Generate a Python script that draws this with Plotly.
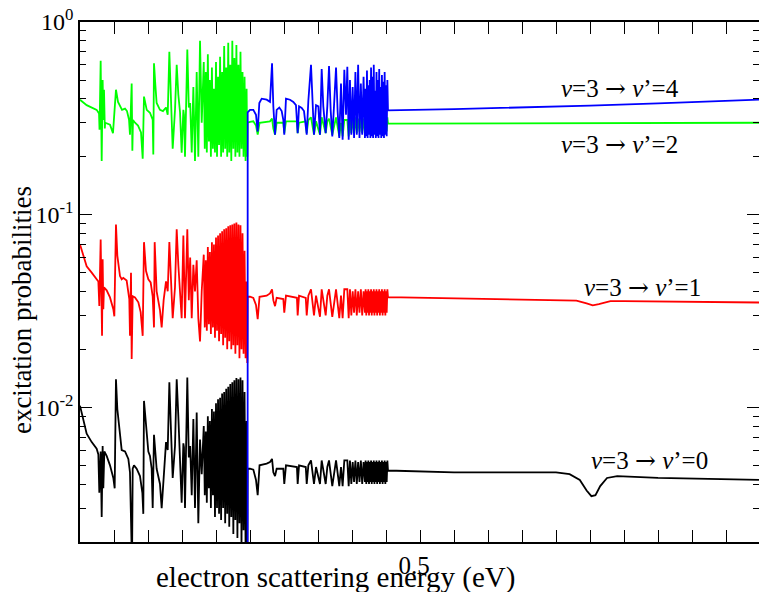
import plotly.graph_objects as go

# ---------------- data (energy in eV, probability) ----------------
# region A (below the v'=4 threshold) and region B (above it)

black_x_a = [0.0, 0.0049, 0.0098, 0.0172, 0.0245, 0.0270, 0.0284, 0.0304, 0.0319, 0.0333, 0.0343, 0.0358,
             0.0392, 0.0441, 0.0490, 0.0510, 0.0529, 0.0549, 0.0588, 0.0613, 0.0662, 0.0711, 0.0735, 0.0750,
             0.0765, 0.0775, 0.0794, 0.0833, 0.0882, 0.0917, 0.0931, 0.0941, 0.0971, 0.1005, 0.1029, 0.1054,
             0.1069, 0.1088, 0.1127, 0.1176, 0.1201, 0.1230, 0.1265, 0.1290, 0.1314, 0.1333, 0.1363, 0.1397,
             0.1422, 0.1446, 0.1471, 0.1495, 0.1520, 0.1529, 0.1544, 0.1578, 0.1600, 0.1620, 0.1643, 0.1667,
             0.1691, 0.1716, 0.1740, 0.1765, 0.1790,
             0.182, 0.1835, 0.185, 0.1865, 0.188, 0.1895, 0.191, 0.1925, 0.194, 0.1955, 0.197, 0.1985,
             0.200, 0.2015, 0.203, 0.2045, 0.206, 0.2075, 0.209, 0.2105, 0.212, 0.2135, 0.215, 0.2165,
             0.218, 0.2195, 0.221, 0.2225, 0.224, 0.2255, 0.227, 0.2285, 0.230, 0.2315, 0.233, 0.2345,
             0.236, 0.2375, 0.239, 0.2405, 0.242, 0.2435, 0.245, 0.2460]
black_y_a = [0.0102, 0.0087, 0.0073, 0.0066, 0.0061, 0.0057, 0.0036, 0.0059, 0.0027, 0.0063, 0.0038, 0.0059,
             0.0056, 0.0050, 0.0043, 0.0038, 0.0140, 0.0098, 0.0069, 0.0060, 0.0059, 0.0054, 0.0046, 0.0028,
             0.0015, 0.0048, 0.0050, 0.0048, 0.0044, 0.0036, 0.0028, 0.0108, 0.0077, 0.0059, 0.0056, 0.0048,
             0.0030, 0.0072, 0.0048, 0.0040, 0.0030, 0.0045, 0.0066, 0.0060, 0.0135, 0.0085, 0.0043, 0.0063,
             0.0140, 0.0090, 0.0058, 0.0032, 0.0065, 0.0062, 0.0030, 0.0143, 0.0055, 0.0063, 0.0035, 0.0087,
             0.0030, 0.0094, 0.0025, 0.0068, 0.0045,
             0.0080, 0.0035, 0.0075, 0.0032, 0.0090, 0.0038, 0.0085, 0.0030, 0.0098, 0.0035, 0.0095, 0.0027,
             0.0105, 0.0030, 0.0110, 0.0028, 0.0112, 0.0026, 0.0118, 0.0030, 0.0120, 0.0025, 0.0125, 0.0028,
             0.0128, 0.0024, 0.0132, 0.0027, 0.0135, 0.0022, 0.0138, 0.0026, 0.0142, 0.0021, 0.0140, 0.0025,
             0.0143, 0.0019, 0.0138, 0.0023, 0.0120, 0.0018, 0.0085, 0.0015]

red_x_a = [0.0, 0.0049, 0.0098, 0.0172, 0.0245, 0.0270, 0.0284, 0.0304, 0.0324, 0.0333, 0.0343, 0.0353,
           0.0392, 0.0441, 0.0490, 0.0505, 0.0529, 0.0549, 0.0588, 0.0613, 0.0637, 0.0686, 0.0725, 0.0735,
           0.0750, 0.0760, 0.0775, 0.0809, 0.0858, 0.0892, 0.0922, 0.0941, 0.0971, 0.1005, 0.1039, 0.1069,
           0.1088, 0.1098, 0.1127, 0.1176, 0.1201, 0.1230, 0.1265, 0.1290, 0.1314, 0.1333, 0.1363, 0.1397,
           0.1422, 0.1446, 0.1471, 0.1495, 0.1520, 0.1529, 0.1544, 0.1578, 0.1600, 0.1620, 0.1643, 0.1667,
           0.1691, 0.1716, 0.1740, 0.1765, 0.1790,
           0.182, 0.1835, 0.185, 0.1865, 0.188, 0.1895, 0.191, 0.1925, 0.194, 0.1955, 0.197, 0.1985,
           0.200, 0.2015, 0.203, 0.2045, 0.206, 0.2075, 0.209, 0.2105, 0.212, 0.2135, 0.215, 0.2165,
           0.218, 0.2195, 0.221, 0.2225, 0.224, 0.2255, 0.227, 0.2285, 0.230, 0.2315, 0.233, 0.2345,
           0.236, 0.2375, 0.239, 0.2405, 0.242, 0.2435, 0.245, 0.2460]
red_y_a = [0.070, 0.0613, 0.054, 0.050, 0.0462, 0.045, 0.0336, 0.0744, 0.0235, 0.0586, 0.0323, 0.042,
           0.0405, 0.0372, 0.0323, 0.0297, 0.089, 0.0613, 0.048, 0.0462, 0.047, 0.0455, 0.0364, 0.0235,
           0.050, 0.0178, 0.0377, 0.0372, 0.0351, 0.0312, 0.0235, 0.072, 0.051, 0.0462, 0.0445, 0.0377,
           0.026, 0.072, 0.040, 0.032, 0.026, 0.036, 0.045, 0.040, 0.072, 0.050, 0.029, 0.042,
           0.084, 0.055, 0.037, 0.029, 0.078, 0.045, 0.029, 0.084, 0.036, 0.060, 0.029, 0.055,
           0.040, 0.058, 0.029, 0.022, 0.040,
           0.062, 0.026, 0.058, 0.025, 0.068, 0.027, 0.064, 0.024, 0.072, 0.026, 0.070, 0.023,
           0.076, 0.025, 0.078, 0.022, 0.080, 0.024, 0.082, 0.021, 0.084, 0.023, 0.085, 0.020,
           0.087, 0.022, 0.088, 0.020, 0.089, 0.021, 0.090, 0.019, 0.091, 0.021, 0.089, 0.018,
           0.088, 0.020, 0.080, 0.019, 0.065, 0.018, 0.045, 0.017]

green_x_a = [0.0, 0.0098, 0.0245, 0.0280, 0.0287, 0.0304, 0.0319, 0.0333, 0.0343, 0.0353, 0.0365, 0.0370,
             0.0441, 0.0485, 0.0529, 0.0559, 0.0618, 0.0662, 0.0691, 0.0721, 0.0735, 0.0760, 0.0770, 0.0779,
             0.0809, 0.0853, 0.0897, 0.0922, 0.0941, 0.0981, 0.1029, 0.1069, 0.1078, 0.1088, 0.1108, 0.1127,
             0.1176, 0.1220, 0.1265, 0.1290, 0.1314, 0.1333, 0.1363, 0.1397, 0.1422, 0.1446, 0.1471, 0.1495,
             0.1520, 0.1529, 0.1544, 0.1578, 0.1600, 0.1620, 0.1643, 0.1667, 0.1691, 0.1716, 0.1740, 0.1765,
             0.1790,
             0.182, 0.1835, 0.185, 0.1865, 0.188, 0.1895, 0.191, 0.1925, 0.194, 0.1955, 0.197, 0.1985,
             0.200, 0.2015, 0.203, 0.2045, 0.206, 0.2075, 0.209, 0.2105, 0.212, 0.2135, 0.215, 0.2165,
             0.218, 0.2195, 0.221, 0.2225, 0.224, 0.2255, 0.227, 0.2285, 0.230, 0.2315, 0.233, 0.2345,
             0.236, 0.2375, 0.239, 0.2405, 0.242, 0.2435, 0.245, 0.2460]
green_y_a = [0.395, 0.37, 0.35, 0.335, 0.276, 0.63, 0.19, 0.50, 0.31, 0.445, 0.28, 0.30,
             0.293, 0.265, 0.445, 0.385, 0.35, 0.355, 0.345, 0.311, 0.26, 0.48, 0.215, 0.31,
             0.30, 0.29, 0.267, 0.195, 0.41, 0.35, 0.338, 0.311, 0.205, 0.61, 0.47, 0.38,
             0.35, 0.345, 0.36, 0.33, 0.70, 0.45, 0.22, 0.35, 0.60, 0.42, 0.34, 0.21,
             0.35, 0.33, 0.20, 0.72, 0.36, 0.38, 0.21, 0.46, 0.19, 0.55, 0.20, 0.80,
             0.30,
             0.62, 0.22, 0.55, 0.21, 0.68, 0.24, 0.50, 0.20, 0.58, 0.22, 0.45, 0.21,
             0.62, 0.20, 0.52, 0.23, 0.66, 0.20, 0.55, 0.21, 0.75, 0.22, 0.58, 0.20,
             0.78, 0.21, 0.60, 0.19, 0.80, 0.22, 0.65, 0.20, 0.76, 0.21, 0.60, 0.20,
             0.70, 0.22, 0.55, 0.20, 0.52, 0.19, 0.45, 0.20]

# region B, isolated resonances (same energies for all channels)
res_x_b = [0.2465, 0.2500, 0.2549, 0.2588, 0.2613, 0.2640, 0.2745, 0.2794, 0.2824, 0.2843, 0.2868, 0.2892,
           0.2990, 0.3004, 0.3029, 0.3190, 0.3201, 0.3221, 0.3320, 0.3334, 0.3358, 0.3397, 0.3441, 0.3471,
           0.3529, 0.3554, 0.3613, 0.3637, 0.3662, 0.3710, 0.3765, 0.3813, 0.3838, 0.3862, 0.3887, 0.3931,
           0.3951]
black_res_b = [0.0048, 0.0048, 0.00475, 0.0042, 0.0035, 0.0050, 0.0051, 0.0052, 0.0054, 0.0046, 0.0044, 0.0048,
               0.0048, 0.0040, 0.0050, 0.0049, 0.0040, 0.0050, 0.0049, 0.0040, 0.0050, 0.0053, 0.0040, 0.0049,
               0.0040, 0.0053, 0.0040, 0.0049, 0.0053, 0.0039, 0.0053, 0.0039, 0.0049, 0.0039, 0.0053, 0.0053,
               0.0039]
red_res_b = [0.0375, 0.0375, 0.037, 0.034, 0.0287, 0.0375, 0.038, 0.039, 0.041, 0.036, 0.0335, 0.037,
             0.0365, 0.031, 0.038, 0.037, 0.030, 0.038, 0.037, 0.030, 0.038, 0.041, 0.030, 0.038,
             0.0295, 0.041, 0.030, 0.038, 0.041, 0.0295, 0.041, 0.029, 0.038, 0.029, 0.041, 0.041,
             0.029]
green_res_b = [0.30, 0.303, 0.305, 0.29, 0.26, 0.30, 0.305, 0.305, 0.315, 0.28, 0.26, 0.30,
               0.30, 0.265, 0.305, 0.305, 0.265, 0.30, 0.305, 0.265, 0.31, 0.32, 0.26, 0.305,
               0.26, 0.32, 0.265, 0.305, 0.315, 0.26, 0.32, 0.255, 0.30, 0.255, 0.31, 0.31,
               0.255]
blue_x_b = [0.2465, 0.2466, 0.2500, 0.2549, 0.2588, 0.2613, 0.2637, 0.2672, 0.2745, 0.2794, 0.2824, 0.2843,
            0.2868, 0.2892, 0.2931, 0.2966, 0.2990, 0.3004, 0.3029, 0.3088, 0.3137, 0.3176, 0.3201, 0.3221,
            0.3260, 0.3294, 0.3334, 0.3358, 0.3397, 0.3422, 0.3441, 0.3471, 0.3505, 0.3529, 0.3554, 0.3578,
            0.3613, 0.3637, 0.3662, 0.3686, 0.3710, 0.3735, 0.3765, 0.3789, 0.3813, 0.3838, 0.3862, 0.3887,
            0.3912, 0.3931, 0.3951]
blue_y_b = [0.0005, 0.34, 0.35, 0.35, 0.33, 0.27, 0.38, 0.40, 0.395, 0.385, 0.61, 0.365,
            0.26, 0.35, 0.36, 0.345, 0.31, 0.26, 0.40, 0.395, 0.385, 0.37, 0.265, 0.365,
            0.358, 0.345, 0.26, 0.39, 0.60, 0.365, 0.26, 0.37, 0.365, 0.26, 0.57, 0.365,
            0.265, 0.365, 0.59, 0.35, 0.255, 0.365, 0.58, 0.34, 0.25, 0.48, 0.245, 0.565,
            0.33, 0.585, 0.245]

# region B, dense resonance series just below 0.45 eV
dense_x_b = [0.397, 0.399, 0.401, 0.403, 0.405, 0.407, 0.409, 0.411, 0.413, 0.415, 0.417, 0.419,
             0.420, 0.421, 0.422, 0.423, 0.424, 0.425, 0.426, 0.427, 0.428, 0.429, 0.430, 0.431,
             0.432, 0.433, 0.434, 0.435, 0.436, 0.437, 0.438, 0.439, 0.440, 0.441, 0.442, 0.443,
             0.444, 0.445, 0.446, 0.447, 0.448, 0.449, 0.450, 0.451, 0.452]
blue_dense_b = [0.50, 0.26, 0.46, 0.25, 0.55, 0.26, 0.60, 0.25, 0.48, 0.26, 0.52, 0.25,
                0.45, 0.255, 0.56, 0.25, 0.47, 0.26, 0.50, 0.25, 0.58, 0.255, 0.52, 0.25,
                0.60, 0.26, 0.44, 0.25, 0.55, 0.255, 0.50, 0.25, 0.57, 0.26, 0.46, 0.25,
                0.53, 0.255, 0.49, 0.25, 0.55, 0.26, 0.47, 0.255, 0.50]
green_dense_b = [0.32, 0.265, 0.315, 0.27, 0.32, 0.265, 0.315, 0.27, 0.32, 0.265, 0.315, 0.27,
                 0.32, 0.265, 0.315, 0.27, 0.32, 0.265, 0.315, 0.27, 0.32, 0.265, 0.315, 0.27,
                 0.32, 0.265, 0.315, 0.27, 0.32, 0.265, 0.315, 0.27, 0.32, 0.265, 0.315, 0.27,
                 0.32, 0.265, 0.315, 0.27, 0.32, 0.265, 0.315, 0.27, 0.32]
red_dense_b = [0.041, 0.030, 0.040, 0.031, 0.041, 0.030, 0.040, 0.031, 0.041, 0.030, 0.040, 0.031,
               0.041, 0.030, 0.040, 0.031, 0.041, 0.030, 0.040, 0.031, 0.041, 0.030, 0.040, 0.031,
               0.041, 0.030, 0.040, 0.031, 0.041, 0.030, 0.040, 0.031, 0.041, 0.030, 0.040, 0.031,
               0.041, 0.030, 0.040, 0.031, 0.041, 0.030, 0.040, 0.031, 0.041]
black_dense_b = [0.0053, 0.0040, 0.0052, 0.0041, 0.0053, 0.0040, 0.0052, 0.0041, 0.0053, 0.0040, 0.0052, 0.0041,
                 0.0053, 0.0040, 0.0052, 0.0041, 0.0053, 0.0040, 0.0052, 0.0041, 0.0053, 0.0040, 0.0052, 0.0041,
                 0.0053, 0.0040, 0.0052, 0.0041, 0.0053, 0.0040, 0.0052, 0.0041, 0.0053, 0.0040, 0.0052, 0.0041,
                 0.0053, 0.0040, 0.0052, 0.0041, 0.0053, 0.0040, 0.0052, 0.0041, 0.0053]

# region C, smooth tail
black_x_c = [0.4529, 0.55, 0.65, 0.70, 0.72, 0.735, 0.745, 0.752, 0.758, 0.765, 0.775, 0.79, 0.85, 0.9985]
black_y_c = [0.0047, 0.0046, 0.0046, 0.0046, 0.0045, 0.0042, 0.0037, 0.00346, 0.0035, 0.0039, 0.0043,
             0.0044, 0.0043, 0.0042]
red_x_c = [0.4529, 0.55, 0.65, 0.70, 0.73, 0.745, 0.754, 0.763, 0.78, 0.80, 0.9985]
red_y_c = [0.0373, 0.0368, 0.0364, 0.0362, 0.0358, 0.0346, 0.0338, 0.0343, 0.0356, 0.0356, 0.0350]
green_x_c = [0.4529, 0.70, 0.9985]
green_y_c = [0.297, 0.299, 0.300]
blue_x_c = [0.4529, 0.55, 0.662, 0.75, 0.85, 0.9985]
blue_y_c = [0.348, 0.353, 0.360, 0.368, 0.378, 0.395]

y_tick_vals = [0.01, 0.1, 1]
y_tick_text = ["10<sup>-2</sup>", "10<sup>-1</sup>", "10<sup>0</sup>"]
y_minor_vals = [0.002, 0.003, 0.004, 0.005, 0.006, 0.007, 0.008, 0.009,
                0.02, 0.03, 0.04, 0.05, 0.06, 0.07, 0.08, 0.09,
                0.2, 0.3, 0.4, 0.5, 0.6, 0.7, 0.8, 0.9]
x_tick_vals = [0.5]
x_tick_text = ["0.5"]

ARROW = "<span style=\"font-family:'DejaVu Serif'\">\u2192</span>"
labels = ["<i>v</i>=3 " + ARROW + " <i>v</i>\u2019=4", "<i>v</i>=3 " + ARROW + " <i>v</i>\u2019=2",
          "<i>v</i>=3 " + ARROW + " <i>v</i>\u2019=1", "<i>v</i>=3 " + ARROW + " <i>v</i>\u2019=0"]

# ---------------- assemble series ----------------
black_x = black_x_a + res_x_b + dense_x_b + black_x_c
black_y = black_y_a + black_res_b + black_dense_b + black_y_c
red_x = red_x_a + res_x_b + dense_x_b + red_x_c
red_y = red_y_a + red_res_b + red_dense_b + red_y_c
green_x = green_x_a + res_x_b + dense_x_b + green_x_c
green_y = green_y_a + green_res_b + green_dense_b + green_y_c
blue_x = blue_x_b + dense_x_b + blue_x_c
blue_y = blue_y_b + blue_dense_b + blue_y_c

FONT = "Liberation Serif"

fig = go.Figure()
for xs, ys, col in [(black_x, black_y, "#000000"), (red_x, red_y, "#ff0000"),
                    (green_x, green_y, "#00ff00"), (blue_x, blue_y, "#0000ff")]:
    fig.add_trace(go.Scatter(x=xs, y=ys, mode="lines", line=dict(color=col, width=1.8),
                             showlegend=False, hoverinfo="skip"))
fig.add_trace(go.Scatter(x=[None], y=[None], yaxis="y2", showlegend=False, hoverinfo="skip"))

yr = [-2.69897, 0]
fig.update_layout(
    width=759, height=592,
    margin=dict(l=80, r=0, t=22, b=50),
    paper_bgcolor="white", plot_bgcolor="white",
    font=dict(family=FONT, size=21, color="black"),
    xaxis=dict(range=[0, 0.9985], showline=True, linecolor="black", linewidth=1.5, mirror="allticks",
               ticks="inside", ticklen=12, tickwidth=1.2, tickcolor="black",
               tickmode="array", tickvals=x_tick_vals, ticktext=x_tick_text,
               ticklabelshift=-6, ticklabelstandoff=0,
               minor=dict(tickmode="linear", tick0=0, dtick=0.05, ticks="inside", ticklen=6,
                          tickwidth=1.2, tickcolor="black", showgrid=False),
               showgrid=False, zeroline=False, automargin=False, tickfont=dict(size=25)),
    yaxis=dict(type="log", range=yr, showline=True, linecolor="black", linewidth=1.5, mirror=False,
               ticks="inside", ticklen=12, tickwidth=1.2, tickcolor="black",
               tickmode="array", tickvals=y_tick_vals, ticktext=y_tick_text,
               minor=dict(tickmode="array", tickvals=y_minor_vals, ticks="inside", ticklen=6,
                          tickwidth=1.2, tickcolor="black", showgrid=False),
               showgrid=False, zeroline=False, automargin=False, tickfont=dict(size=24)),
    yaxis2=dict(type="log", range=yr, overlaying="y", side="right", showline=False,
                ticks="inside", ticklen=12, tickwidth=1.2, tickcolor="black",
                tickmode="array", tickvals=y_tick_vals, showticklabels=False,
                minor=dict(tickmode="array", tickvals=y_minor_vals, ticks="inside", ticklen=6,
                           tickwidth=1.2, tickcolor="black", showgrid=False),
                showgrid=False, zeroline=False, automargin=False),
)

ann = [
    dict(text="electron scattering energy (eV)", x=0.3756, y=-0.0692, size=29, angle=0),
    dict(text="excitation probabilities", x=-0.0854, y=0.446, size=27, angle=-90),
    dict(text=labels[0], x=0.795, y=0.873, size=25, angle=0),
    dict(text=labels[1], x=0.795, y=0.765, size=25, angle=0),
    dict(text=labels[2], x=0.829, y=0.490, size=25, angle=0),
    dict(text=labels[3], x=0.838, y=0.156, size=25, angle=0),
]
for a in ann:
    fig.add_annotation(text=a["text"], x=a["x"], y=a["y"], xref="paper", yref="paper",
                       showarrow=False, textangle=a["angle"], xanchor="center", yanchor="middle",
                       font=dict(family=FONT, size=a["size"], color="black"))

fig.write_html("out.html", config={"displayModeBar": False},
               post_script="document.body.style.margin='0';document.body.style.overflow='hidden';")
